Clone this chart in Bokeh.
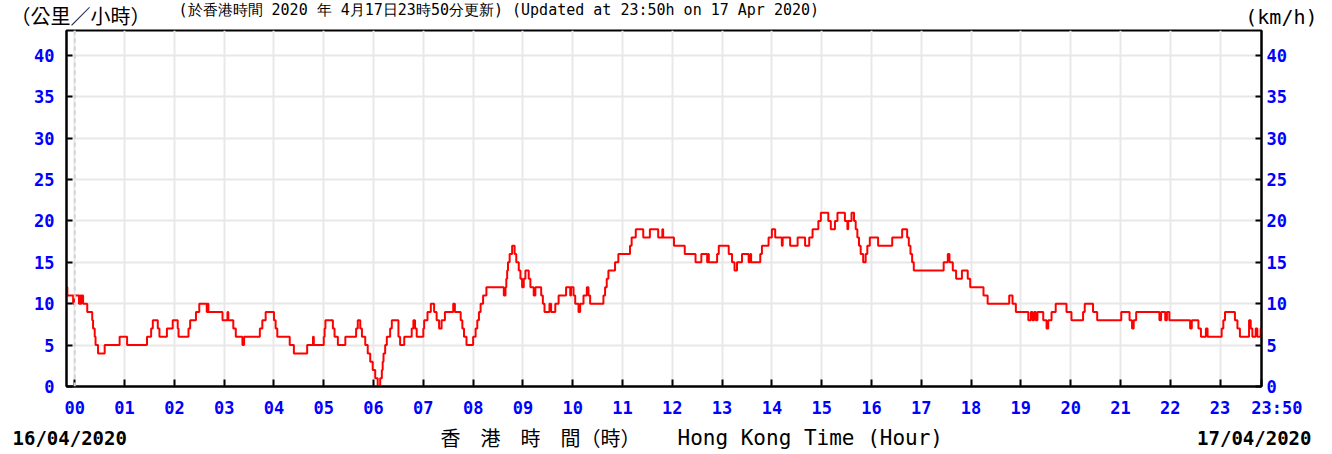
from bokeh.plotting import figure
from bokeh.layouts import column
from bokeh.models import Range1d, LinearAxis, FixedTicker, Label, Span
from bokeh.embed import file_html
from bokeh.resources import INLINE

# ---- data: change points (minutes after 00:00 on 16/04/2020, wind speed km/h) ----
minutes = [-10, -9, -2, -1, 5, 6, 7, 8, 10, 15, 21, 22, 24, 25, 28, 36, 54, 63, 87, 92,
           94, 100, 102, 111, 118, 124, 125, 137, 139, 146, 150, 159, 160, 161, 178, 184, 185, 191, 194, 202,
           204, 223, 226, 230, 240, 242, 244, 259, 264, 280, 287, 288, 300, 301, 302, 311, 313, 317, 326, 339,
           341, 344, 346, 350, 353, 356, 359, 362, 365, 368, 370, 371, 372, 374, 376, 380, 382, 390, 392, 397,
           406, 408, 410, 412, 420, 421, 425, 429, 433, 436, 439, 442, 446, 456, 458, 465, 467, 469, 472, 480,
           483, 485, 487, 489, 492, 496, 517, 519, 520, 521, 522, 524, 527, 530, 532, 535, 537, 539, 541, 543,
           547, 549, 553, 555, 562, 564, 566, 572, 574, 579, 583, 592, 597, 598, 601, 603, 607, 609, 613, 617,
           619, 621, 637, 639, 641, 643, 651, 655, 669, 671, 676, 685, 693, 703, 708, 709, 722, 735, 748, 755,
           762, 763, 764, 774, 776, 788, 792, 795, 798, 804, 812, 814, 815, 826, 828, 836, 840, 844, 852, 853,
           862, 871, 880, 885, 889, 896, 899, 908, 911, 916, 919, 928, 931, 932, 936, 939, 941, 943, 945, 947,
           950, 953, 955, 958, 968, 985, 997, 1003, 1005, 1007, 1009, 1011, 1047, 1052, 1054, 1058, 1062, 1069, 1076, 1079,
           1095, 1100, 1126, 1130, 1134, 1149, 1152, 1154, 1156, 1158, 1160, 1167, 1171, 1173, 1177, 1182, 1195, 1201, 1215, 1217,
           1227, 1232, 1261, 1271, 1274, 1276, 1279, 1307, 1309, 1314, 1316, 1319, 1344, 1346, 1354, 1357, 1363, 1365, 1382, 1384,
           1386, 1398, 1401, 1404, 1415, 1417, 1419, 1423, 1425, 1429, 1430]
speed = [12, 11, 10, 11, 10, 11, 10, 11, 10, 9, 8, 7, 6, 5, 4, 5, 6, 5, 6, 7,
         8, 7, 6, 7, 8, 7, 6, 7, 8, 9, 10, 9, 10, 9, 8, 9, 8, 7, 6, 5,
         6, 7, 8, 9, 8, 7, 6, 5, 4, 5, 6, 5, 6, 7, 8, 7, 6, 5, 6, 7,
         8, 7, 6, 5, 4, 3, 2, 1, 0, 1, 2, 3, 4, 5, 6, 7, 8, 6, 5, 6,
         7, 8, 7, 6, 7, 8, 9, 10, 9, 8, 7, 8, 9, 10, 9, 8, 7, 6, 5, 6,
         7, 8, 9, 10, 11, 12, 11, 12, 13, 14, 15, 16, 17, 16, 15, 14, 13, 12, 13, 14,
         13, 12, 11, 12, 11, 10, 9, 10, 9, 10, 11, 12, 11, 12, 11, 10, 9, 10, 11, 12,
         11, 10, 11, 12, 13, 14, 15, 16, 17, 18, 19, 18, 19, 18, 19, 18, 17, 16, 15, 16,
         15, 16, 15, 16, 17, 16, 15, 14, 15, 16, 15, 16, 15, 16, 17, 18, 19, 18, 17, 18,
         17, 18, 17, 18, 19, 20, 21, 20, 19, 20, 21, 20, 19, 20, 21, 20, 19, 18, 17, 16,
         15, 16, 17, 18, 17, 18, 19, 18, 17, 16, 15, 14, 15, 16, 15, 14, 13, 14, 13, 12,
         11, 10, 11, 10, 9, 8, 9, 8, 9, 8, 9, 8, 7, 8, 9, 10, 9, 8, 9, 10,
         9, 8, 9, 8, 7, 8, 9, 8, 9, 8, 9, 8, 7, 8, 7, 6, 7, 6, 7, 8,
         9, 8, 7, 6, 8, 7, 6, 7, 6, 7, 7]

hour_ticks = [0, 60, 120, 180, 240, 300, 360, 420, 480, 540, 600, 660, 720, 780, 840,
              900, 960, 1020, 1080, 1140, 1200, 1260, 1320, 1380, 1430]
NB = "\u00a0"
hour_labels = ["00", "01", "02", "03", "04", "05", "06", "07", "08", "09", "10", "11", "12",
               "13", "14", "15", "16", "17", "18", "19", "20", "21", "22", "23", NB * 3 + "23:50"]
y_ticks = [0, 5, 10, 15, 20, 25, 30, 35, 40]

title_text = "(於香港時間 2020 年 4月17日23時50分更新) (Updated at 23:50h on 17 Apr 2020)"
unit_left = "（公里／小時）"
unit_right = "(km/h)"
xlabel_zh = "香　港　時　間（時）"
xlabel_en = "Hong Kong Time (Hour)"
date_start = "16/04/2020"
date_end = "17/04/2020"

W = 1324
MONO = "DejaVu Sans Mono"
CJK = "Noto Sans CJK TC"
BLUE = "#0000ff"


def strip(height):
    s = figure(width=W, height=height, output_backend="svg", toolbar_location=None,
               x_range=Range1d(0, W), y_range=Range1d(0, height),
               x_axis_type=None, y_axis_type=None, frame_align=False,
               min_border_left=0, min_border_right=0, min_border_top=0, min_border_bottom=0,
               background_fill_color="white", border_fill_color="white")
    s.outline_line_color = None
    return s


# ---- top strip: units and update note ----
TOP_H = 29
top = strip(TOP_H)
top.add_layout(Label(x=10, y=TOP_H - 14.5, text=unit_left, text_align="left", text_baseline="middle",
                     text_color="black", text_font=CJK, text_font_size="20px"))
top.add_layout(Label(x=178, y=TOP_H, text=title_text, text_align="left", text_baseline="top",
                     text_color="black", text_font=MONO, text_font_size="15px"))
top.add_layout(Label(x=1317, y=TOP_H - 16, text=unit_right, text_align="right", text_baseline="middle",
                     text_color="black", text_font=MONO, text_font_size="20px"))

# ---- main chart ----
p = figure(width=W, height=391, output_backend="svg", toolbar_location=None,
           x_range=Range1d(-10, 1430), y_range=Range1d(0, 43), frame_align=False,
           min_border_left=66, min_border_right=63, min_border_top=1, min_border_bottom=32,
           background_fill_color="white", border_fill_color="white")
p.outline_line_color = "black"
p.outline_line_width = 2

p.add_layout(LinearAxis(), "right")

for ax in p.yaxis:
    ax.ticker = FixedTicker(ticks=y_ticks)
    ax.major_label_text_color = BLUE
    ax.major_label_text_font = MONO
    ax.major_label_text_font_style = "bold"
    ax.major_label_text_font_size = "17px"
    ax.minor_tick_line_color = None
    ax.major_tick_in = 6
    ax.major_tick_out = 0
    ax.major_tick_line_width = 2
    ax.axis_line_width = 2
    ax.axis_line_color = "black"
p.yaxis[0].major_label_standoff = 12
p.yaxis[1].major_label_standoff = 5

xa = p.xaxis[0]
xa.ticker = FixedTicker(ticks=hour_ticks)
xa.major_label_overrides = {t: l for t, l in zip(hour_ticks, hour_labels)}
xa.major_label_text_color = BLUE
xa.major_label_text_font = MONO
xa.major_label_text_font_style = "bold"
xa.major_label_text_font_size = "17px"
xa.minor_tick_line_color = None
xa.major_tick_in = 7
xa.major_tick_out = 0
xa.major_tick_line_width = 2
xa.axis_line_width = 2
xa.major_label_standoff = 11

p.xgrid.ticker = FixedTicker(ticks=hour_ticks[:-1])
p.ygrid.ticker = FixedTicker(ticks=y_ticks)
for g in (p.xgrid[0], p.ygrid[0]):
    g.grid_line_color = "#e8e8e8"
    g.grid_line_width = 2

p.add_layout(Span(location=0, dimension="height", line_color="#d4d4d4",
                  line_dash="4 4", line_width=2))

p.step(minutes, speed, mode="after", line_color="#ff0000", line_width=2)

# ---- bottom strip: dates and axis title ----
BOT_H = 32
bot = strip(BOT_H)
for txt, x, align in ((date_start, 12, "left"), (date_end, 1311, "right")):
    bot.add_layout(Label(x=x, y=15, text=txt, text_align=align, text_baseline="middle",
                         text_color="black", text_font=MONO, text_font_style="bold",
                         text_font_size="19px"))
bot.add_layout(Label(x=440, y=15, text=xlabel_zh, text_align="left", text_baseline="middle",
                     text_color="black", text_font=CJK, text_font_size="20px"))
bot.add_layout(Label(x=677, y=15, text=xlabel_en, text_align="left", text_baseline="middle",
                     text_color="black", text_font=MONO, text_font_size="21px"))

layout = column(top, p, bot, spacing=0)
open("out.html", "w").write(file_html(layout, INLINE))
